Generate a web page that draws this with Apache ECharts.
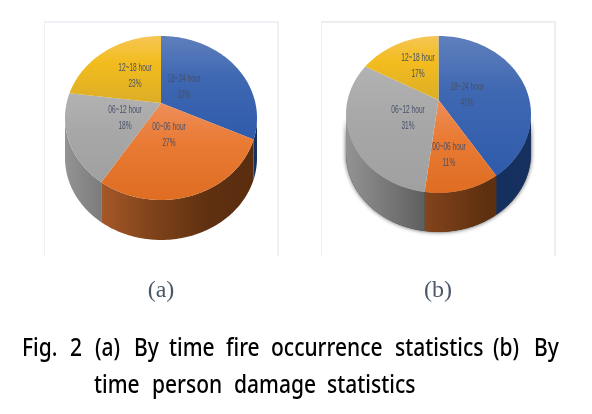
<!DOCTYPE html>
<html>
<head>
<meta charset="utf-8">
<script src="https://cdn.jsdelivr.net/npm/echarts@6/dist/echarts.min.js"></script>
<style>
html, body { margin: 0; padding: 0; background: #fff; }
#chart { width: 592px; height: 414px; }
</style>
</head>
<body>
<div id="chart"></div>
<script>
var categories = ['18~24 hour', '00~06 hour', '06~12 hour', '12~18 hour'];
var fireValues = [32, 27, 18, 23];
var personValues = [41, 11, 31, 17];

// pie geometry, cx/cy is the middle of the top ellipse, apex sits above it
var pieA = {cx: 161, cy: 118, rx: 96, ry: 82, apex: 15, depth: 40, edge: false};
var pieB = {cx: 438.5, cy: 114.5, rx: 92.5, ry: 78.5, apex: 14.5, depth: 39, edge: true};

var labelSpotA = [[184, 87], [169, 135], [125, 118], [135, 76]];
var labelSpotB = [[467, 95], [449, 155], [408, 118], [418, 66]];

var topColors = [
    ['#5f7fbc', '#3f68b2', '#2f5bab'],
    ['#ee8e5a', '#e97b35', '#df6d22'],
    ['#b2b2b2', '#a8a8a8', '#a0a0a0'],
    ['#f5c654', '#f3bc1e', '#dcae26']
];
// stops run across the whole pie, not one slice
var wallStops = [
    [[0, '#0e2a58'], [1, '#16315f']],
    [[0.15, '#ab5b2a'], [0.45, '#80431b'], [0.75, '#5f3010'], [1, '#5a2d10']],
    [[0, '#939393'], [0.45, '#5c5c5c']],
    [[0, '#8f6f10'], [1, '#8f6f10']]
];

var chart = echarts.init(document.getElementById('chart'));

function project(pie, theta) {
    // circle seen in perspective, theta runs clockwise from 12 o'clock
    var k = pie.apex / pie.ry;
    var a = pie.rx * Math.sqrt(1 - k * k);
    var u = Math.sin(theta), v = Math.cos(theta), w = 1 + k * v;
    return [pie.cx + a * u / w, pie.cy - (pie.ry * v + pie.apex) / w];
}

function rim(pie, from, to, dy) {
    var pts = [];
    var n = Math.max(2, Math.ceil((to - from) / 0.02));
    for (var i = 0; i <= n; i++) {
        var p = project(pie, from + (to - from) * i / n);
        pts.push([p[0], p[1] + dy]);
    }
    return pts;
}

function topFill(colors) {
    return new echarts.graphic.LinearGradient(0, 0, 0, 1, [
        {offset: 0, color: colors[0]},
        {offset: 0.4, color: colors[1]},
        {offset: 1, color: colors[2]}
    ]);
}

function wallFill(pie, stops) {
    var list = stops.map(function (s) { return {offset: s[0], color: s[1]}; });
    return new echarts.graphic.LinearGradient(pie.cx - pie.rx, 0, pie.cx + pie.rx, 0, list, true);
}

function pieRender(pie, values, spots) {
    var total = values.reduce(function (s, x) { return s + x; }, 0);
    return function (params, api) {
        var idx = params.dataIndex;
        var before = 0;
        for (var i = 0; i < idx; i++) before += values[i];
        var from = before / total * Math.PI * 2;
        var to = (before + api.value(1)) / total * Math.PI * 2;
        var k = pie.apex / pie.ry;
        var frontFrom = Math.acos(-k), frontTo = Math.PI * 2 - frontFrom;
        var kids = [];

        // soft dark edge below the wall
        if (idx === 0 && pie.edge) {
            kids.push({
                type: 'polygon',
                shape: {points: rim(pie, frontFrom, frontTo, 0).concat(rim(pie, frontFrom, frontTo, pie.depth).reverse())},
                style: {fill: '#444', shadowBlur: 4, shadowColor: 'rgba(0,0,0,0.7)'},
                z2: 0
            });
        }
        var a = Math.max(from, frontFrom), b = Math.min(to, frontTo);
        if (b > a) {
            kids.push({
                type: 'polygon',
                shape: {points: rim(pie, a, b, 0).concat(rim(pie, a, b, pie.depth).reverse())},
                style: {fill: wallFill(pie, wallStops[idx])},
                z2: 1
            });
        }
        var apexPt = [pie.cx, pie.cy - pie.apex];
        kids.push({
            type: 'polygon',
            shape: {points: [apexPt].concat(rim(pie, from, to, 0))},
            style: {fill: topFill(topColors[idx])},
            z2: 2
        });
        kids.push({
            type: 'text',
            x: spots[idx][0],
            y: spots[idx][1],
            scaleX: 0.6,
            style: {
                text: categories[idx] + '\n' + api.value(1) + '%',
                font: '11px "Liberation Sans"',
                lineHeight: 15.5,
                fill: '#46506a',
                align: 'center',
                verticalAlign: 'middle'
            },
            z2: 3
        });
        return {type: 'group', children: kids};
    };
}

function pieSeries(pie, values, spots) {
    return {
        type: 'custom',
        coordinateSystem: 'none',
        silent: true,
        animation: false,
        data: values.map(function (v, i) { return [i, v]; }),
        renderItem: pieRender(pie, values, spots)
    };
}

var captionWords = [
    ['Fig.', 22, 348.5], ['2', 70, 348.5], ['(a)', 95, 348.5], ['By', 134, 348.5], ['time', 169, 348.5],
    ['fire', 226, 348.5], ['occurrence', 271, 348.5], ['statistics', 395, 348.5], ['(b)', 493, 348.5], ['By', 534, 348.5],
    ['time', 94, 385.5], ['person', 152, 385.5], ['damage', 234, 385.5], ['statistics', 327, 385.5]
];

function frame(x, y, w, h, side, color) {
    return [
        {type: 'rect', silent: true, shape: {x: x, y: y, width: w, height: 2}, style: {fill: color}},
        {type: 'rect', silent: true, shape: {x: x, y: y, width: 1, height: h}, style: {fill: color}},
        {type: 'rect', silent: true, shape: {x: x + w - side, y: y, width: side, height: h}, style: {fill: color}}
    ];
}

var graphics = frame(44, 21, 235, 235, 2, '#eef0f6').concat(frame(321, 21, 235, 235, 2, '#eeeeee'));
['(a)', '(b)'].forEach(function (t, i) {
    graphics.push({
        type: 'text', x: i ? 438 : 161, y: 291, silent: true,
        style: {text: t, font: '24px "Liberation Serif"', fill: '#4a5868', align: 'center', verticalAlign: 'middle'}
    });
});
captionWords.forEach(function (w) {
    graphics.push({
        type: 'text', x: w[1], y: w[2], scaleY: 1.22, silent: true,
        style: {text: w[0], font: '500 21px "Noto Sans"', fill: '#000', align: 'left', verticalAlign: 'middle'}
    });
});

chart.setOption({
    animation: false,
    backgroundColor: '#fff',
    graphic: graphics,
    series: [pieSeries(pieA, fireValues, labelSpotA), pieSeries(pieB, personValues, labelSpotB)]
});
</script>
</body>
</html>
